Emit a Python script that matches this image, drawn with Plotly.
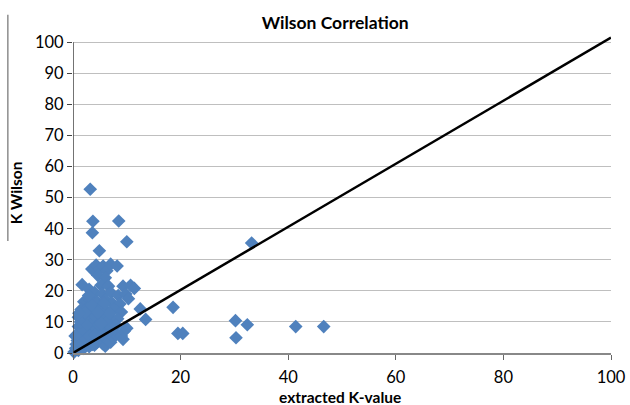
import plotly.graph_objects as go

# extracted K-value (x) vs K Wilson (y)
k_extracted = [
    3.2, 3.7, 8.5, 3.6, 10.0, 4.9,
    3.5, 4.3, 5.0, 5.6, 6.3, 7.0, 8.2, 4.6, 6.0,
    1.7, 5.2, 6.6, 9.3, 10.7, 11.4,
    3.0, 4.0, 5.5, 7.0, 8.4, 9.8, 10.3,
    2.0, 3.2, 4.5, 6.0, 7.3, 8.7,
    1.5, 2.7, 3.8, 5.0, 6.3, 7.6, 9.0,
    12.5, 18.6, 13.5,
    1.0, 2.2, 3.3, 4.5, 5.7, 7.0, 8.3,
    0.2, 0.5, 1.0, 1.5, 2.0, 2.5, 3.0, 3.5, 4.0, 4.5, 5.0, 5.5, 6.0, 6.5, 7.0, 7.5,
    8.0, 9.0, 9.5, 10.0, 9.3,
    0.8, 1.3, 2.0, 2.8, 3.5, 4.2, 5.0, 6.0, 1.0, 2.0, 3.0, 4.0, 6.5,
    0.6, 1.2, 1.8, 2.4, 3.0, 3.6, 4.2, 4.8, 5.4, 6.2, 7.2, 8.0,
    1.4, 2.6, 3.9, 5.2, 6.8, 2.3, 3.4, 4.6, 0.4, 1.1, 2.9, 5.8,
    19.5, 20.4, 30.2, 32.4, 30.3, 41.4, 46.6, 33.2,
]
k_wilson = [
    52.7, 42.4, 42.5, 38.7, 35.8, 32.9,
    27.0, 28.3, 26.8, 28.0, 26.5, 28.6, 28.0, 25.0, 24.2,
    22.0, 21.8, 21.5, 21.5, 21.8, 20.8,
    20.5, 19.5, 19.0, 19.5, 18.5, 19.0, 17.5,
    16.5, 17.0, 16.5, 17.0, 16.0, 15.8,
    14.0, 14.5, 13.5, 14.2, 13.5, 14.0, 13.2,
    14.2, 14.7, 10.8,
    11.5, 12.0, 11.0, 11.5, 11.0, 11.2, 11.0,
    0.3, 1.5, 0.8, 2.5, 1.5, 3.0, 2.0, 4.0, 2.5, 3.5, 4.5, 3.0, 2.2, 4.0, 3.5, 5.0,
    6.0, 5.5, 7.0, 8.0, 4.4,
    4.0, 6.0, 5.0, 7.0, 6.5, 8.0, 7.0, 8.5, 8.5, 9.5, 9.8, 10.5, 6.5,
    2.8, 3.5, 7.5, 4.5, 5.5, 2.8, 5.8, 9.2, 6.0, 9.8, 8.2, 8.8,
    10.0, 9.0, 12.2, 9.5, 12.8, 13.0, 15.5, 13.0, 5.5, 12.8, 18.5, 16.0,
    6.3, 6.3, 10.4, 9.1, 4.9, 8.5, 8.5, 35.4,
]

# 1:1 style correlation line
line_x = [0, 100]
line_y = [0, 101.5]

x_ticks = [0, 20, 40, 60, 80, 100]
y_ticks = [0, 10, 20, 30, 40, 50, 60, 70, 80, 90, 100]

FONT = "Lato, 'Open Sans', sans-serif"

fig = go.Figure()
fig.add_trace(go.Scatter(
    x=k_extracted, y=k_wilson, mode="markers",
    marker=dict(symbol="diamond", size=10.5, color="#4F81BD", line=dict(width=0)),
    cliponaxis=False, showlegend=False,
))
fig.add_trace(go.Scatter(
    x=line_x, y=line_y, mode="lines",
    line=dict(color="black", width=2.5), showlegend=False,
))

fig.update_layout(
    width=630, height=405,
    margin=dict(l=73, r=19, t=33, b=52),
    paper_bgcolor="white", plot_bgcolor="white",
    font=dict(family=FONT, size=16.5, color="black"),
    title=dict(text="<b>Wilson Correlation</b>", x=0.532, xanchor="center",
               y=0.943, yanchor="middle", font=dict(size=17.5, family=FONT)),
    xaxis=dict(
        range=[0, 100], tickvals=x_ticks, ticks="outside", ticklen=5,
        tickcolor="#666", showline=True, linecolor="#888", linewidth=1.5,
        showgrid=False, zeroline=False, ticklabelstandoff=3, automargin=False,
    ),
    yaxis=dict(
        range=[0, 103], tickvals=y_ticks, ticks="outside", ticklen=5,
        tickcolor="#444", showline=False, showgrid=True, gridcolor="#BFBFBF",
        gridwidth=1.2, zeroline=False, automargin=False,
        title=dict(text="<b>K Wilson</b>", font=dict(size=15.5), standoff=8),
    ),
    annotations=[
        dict(text="<b>extracted K-value</b>", xref="paper", yref="paper",
             x=0.497, y=-0.136, xanchor="center", yanchor="middle",
             showarrow=False, font=dict(size=15.5)),
    ],
    shapes=[
        dict(type="line", xref="x", yref="y", x0=0, x1=0, y0=0, y1=100,
             line=dict(color="#444", width=1.5)),
        dict(type="line", xref="paper", yref="paper", x0=-0.121, x1=-0.121,
             y0=0.35, y1=1.057, line=dict(color="#555", width=1)),
    ],
)

fig.write_html("out.html")
